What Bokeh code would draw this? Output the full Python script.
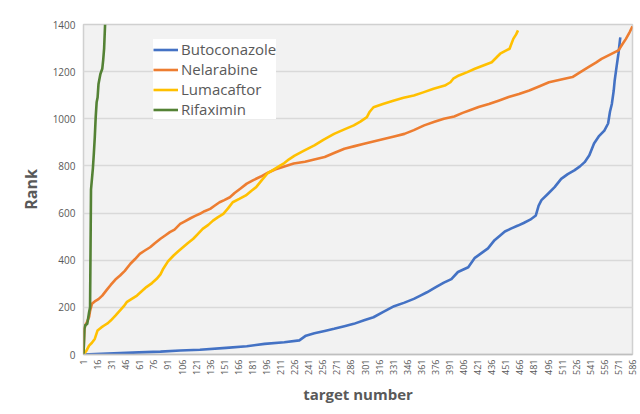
import math
from bokeh.plotting import figure
from bokeh.models import Range1d, FixedTicker, Legend, LegendItem
from bokeh.embed import file_html
from bokeh.resources import INLINE

# ---- data ----
x_ticks = list(range(1, 587, 15))
y_ticks = list(range(0, 1401, 200))

buto_x = [1, 20, 40, 60, 83, 104, 125, 153, 175, 194, 215, 231, 238, 247, 258, 268, 279, 289,
          300, 310, 320, 332, 343, 353, 360, 367, 376, 385, 393, 400, 411, 418, 425, 432, 439,
          445, 450, 457, 464, 470, 477, 483, 486, 489, 496, 503, 510, 517, 524, 530, 535, 540,
          545, 550, 556, 560, 562, 564, 566, 567, 569, 571, 573]
buto_y = [0, 3, 6, 9, 12, 17, 20, 28, 35, 45, 52, 60, 80, 90, 100, 109, 120, 130,
          145, 158, 180, 205, 220, 236, 250, 264, 285, 305, 320, 350, 370, 410, 430, 450, 485,
          505, 522, 535, 547, 558, 572, 590, 632, 655, 682, 710, 745, 765, 781, 798, 816, 845,
          895, 925, 950, 980, 1030, 1063, 1120, 1162, 1220, 1276, 1345]

nela_x = [1, 2, 3, 5, 7, 8, 10, 13, 17, 21, 26, 30, 35, 40, 45, 51, 56, 61, 66, 72, 77, 83, 88,
          93, 98, 104, 109, 115, 120, 125, 130, 136, 141, 146, 151, 157, 162, 168, 175, 182,
          190, 197, 205, 215, 225, 237, 248, 258, 268, 279, 290, 300, 311, 322, 332, 343, 353,
          364, 375, 385, 396, 405, 412, 422, 433, 444, 454, 465, 476, 487, 497, 510, 522, 530,
          539, 547, 553, 562, 571, 575, 579, 583, 586]
nela_y = [5, 110, 125, 140, 160, 185, 215, 225, 235, 250, 275, 295, 318, 335, 355, 385, 405,
          427, 440, 455, 472, 491, 505, 519, 530, 554, 565, 578, 588, 597, 608, 618, 632, 646,
          655, 667, 685, 703, 725, 740, 755, 770, 785, 798, 810, 818, 828, 838, 855, 873, 884,
          894, 905, 915, 925, 936, 952, 972, 987, 1000, 1010, 1025, 1035, 1050, 1063, 1078,
          1092, 1105, 1120, 1138, 1155, 1167, 1177, 1197, 1219, 1238, 1254, 1272, 1290, 1315,
          1339, 1368, 1392]

luma_x = [1, 4, 7, 10, 13, 16, 20, 23, 27, 30, 35, 40, 44, 47, 52, 58, 63, 68, 74, 79, 83, 86,
          91, 97, 102, 107, 112, 118, 123, 128, 134, 139, 144, 150, 155, 160, 167, 174, 180,
          185, 191, 197, 204, 210, 215, 220, 226, 236, 247, 257, 268, 279, 289, 296, 303, 306,
          310, 320, 332, 342, 353, 363, 374, 386, 392, 395, 401, 410, 418, 427, 436, 441, 445,
          450, 455, 457, 459, 462, 464]
luma_y = [0, 15, 38, 50, 66, 102, 115, 123, 133, 144, 165, 187, 205, 222, 235, 250, 268, 286,
          303, 321, 340, 364, 395, 420, 438, 455, 472, 491, 512, 533, 550, 568, 582, 597, 620,
          646, 660, 675, 695, 710, 740, 768, 785, 800, 812, 828, 844, 865, 887, 912, 936, 955,
          972, 988, 1007, 1030, 1049, 1063, 1078, 1089, 1099, 1112, 1127, 1141, 1155, 1170,
          1184, 1198, 1212, 1226, 1240, 1260, 1276, 1287, 1297, 1318, 1339, 1358, 1375]

rifa_x = [1, 2, 3, 5, 7, 8, 9, 11, 12, 13, 14, 15, 16, 17, 19, 21, 22, 23, 24]
rifa_y = [0, 110, 125, 130, 180, 200, 700, 790, 851, 920, 1007, 1070, 1090, 1148, 1190, 1212,
          1250, 1300, 1400]

series_names = ["Butoconazole", "Nelarabine", "Lumacaftor", "Rifaximin"]
series_colors = ["#4472C4", "#ED7D31", "#FFC000", "#548235"]
series_data = [(buto_x, buto_y), (nela_x, nela_y), (luma_x, luma_y), (rifa_x, rifa_y)]

FONT = "Open Sans"
GRAY = "#595959"

p = figure(width=640, height=414, output_backend="svg", toolbar_location=None,
           x_range=Range1d(1, 586), y_range=Range1d(0, 1400),
           min_border_left=83, min_border_right=8, min_border_top=24, min_border_bottom=60)

p.background_fill_color = "#f2f2f2"
p.border_fill_color = "white"
p.outline_line_color = "#d0d0d0"
p.outline_line_width = 1.5

items = []
for name, col, (xs, ys) in zip(series_names, series_colors, series_data):
    r = p.line(xs, ys, line_color=col, line_width=2.6, line_join="round")
    items.append(LegendItem(label=name, renderers=[r]))

legend = Legend(items=items, location=(70, 235))
legend.label_text_font = FONT
legend.label_text_font_size = "15px"
legend.label_text_color = GRAY
legend.glyph_width = 25
legend.glyph_height = 15
legend.label_height = 15
legend.label_standoff = 3
legend.spacing = 0
legend.padding = 3
legend.margin = 0
legend.border_line_color = None
legend.background_fill_color = "white"
legend.background_fill_alpha = 1.0
p.add_layout(legend)

# grids
p.xgrid.visible = False
p.ygrid.grid_line_color = "#d9d9d9"
p.ygrid.grid_line_width = 1.5

# x axis
p.xaxis.ticker = FixedTicker(ticks=x_ticks)
p.xaxis.major_label_orientation = math.pi / 2
p.xaxis.major_label_text_font = FONT
p.xaxis.major_label_text_font_size = "9px"
p.xaxis.major_label_text_color = GRAY
p.xaxis.major_label_standoff = 5
p.xaxis.major_tick_out = 0
p.xaxis.major_tick_in = 0
p.xaxis.minor_tick_out = 0
p.xaxis.minor_tick_in = 0
p.xaxis.major_tick_line_color = None
p.xaxis.minor_tick_line_color = None
p.xaxis.axis_line_color = "#bfbfbf"
p.xaxis.axis_line_width = 1.5
p.xaxis.axis_label = "target number"
p.xaxis.axis_label_text_font = FONT
p.xaxis.axis_label_text_font_style = "bold"
p.xaxis.axis_label_text_font_size = "15px"
p.xaxis.axis_label_text_color = GRAY
p.xaxis.axis_label_standoff = 6

# y axis
p.yaxis.ticker = FixedTicker(ticks=y_ticks)
p.yaxis.major_label_text_font = FONT
p.yaxis.major_label_text_font_size = "10px"
p.yaxis.major_label_text_color = GRAY
p.yaxis.major_label_standoff = 8
p.yaxis.major_tick_out = 0
p.yaxis.major_tick_in = 0
p.yaxis.minor_tick_out = 0
p.yaxis.minor_tick_in = 0
p.yaxis.major_tick_line_color = None
p.yaxis.minor_tick_line_color = None
p.yaxis.axis_line_color = None
p.yaxis.axis_label = "Rank"
p.yaxis.axis_label_text_font = FONT
p.yaxis.axis_label_text_font_style = "bold"
p.yaxis.axis_label_text_font_size = "16px"
p.yaxis.axis_label_text_color = GRAY
p.yaxis.axis_label_standoff = 8

open("out.html", "w").write(file_html(p, INLINE))
